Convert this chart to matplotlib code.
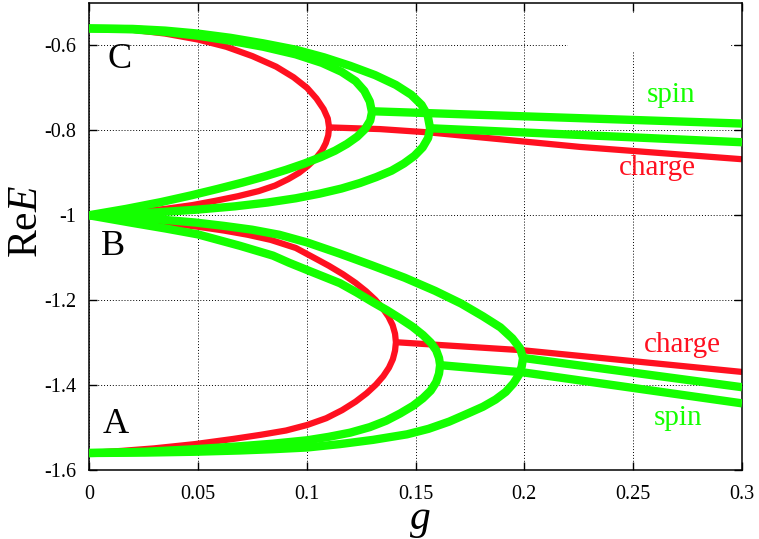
import matplotlib
matplotlib.use("Agg")
import matplotlib.pyplot as plt
from matplotlib.patches import Rectangle

plt.rcParams['font.family'] = ['Liberation Serif', 'DejaVu Serif']
plt.rcParams['mathtext.fontset'] = 'custom'
plt.rcParams['mathtext.rm'] = 'Liberation Serif'
plt.rcParams['mathtext.it'] = 'Liberation Serif:italic'

RED = '#ff1020'
GREEN = '#14ff00'

# --- upper pair of levels (C <-> B) ---
red_cb_g = [0, 0.02, 0.035, 0.05, 0.063, 0.075, 0.086, 0.094, 0.1002, 0.1045, 0.1078, 0.1097, 0.1103,
            0.1099, 0.1088, 0.107, 0.1042, 0.1005, 0.0965, 0.0915, 0.0855, 0.078, 0.0685, 0.058,
            0.0475, 0.035, 0.02, 0]
red_cb_e = [-0.560, -0.563, -0.572, -0.586, -0.603, -0.625, -0.650, -0.675, -0.700, -0.725, -0.750, -0.772, -0.793,
            -0.812, -0.830, -0.848, -0.866, -0.884, -0.900, -0.915, -0.930, -0.943, -0.955, -0.966,
            -0.976, -0.985, -0.993, -1.000]

spin1_cb_g = [0, 0.02, 0.035, 0.05, 0.065, 0.08, 0.095, 0.107, 0.116, 0.1225, 0.1265, 0.129, 0.130,
              0.1292, 0.1268, 0.1232, 0.1185, 0.113, 0.1065, 0.099, 0.0905, 0.081, 0.0705, 0.059,
              0.047, 0.033, 0.017, 0]
spin1_cb_e = [-0.560, -0.562, -0.568, -0.577, -0.589, -0.603, -0.621, -0.641, -0.662, -0.684, -0.707, -0.732, -0.757,
              -0.777, -0.797, -0.815, -0.832, -0.848, -0.863, -0.878, -0.893, -0.908, -0.923, -0.938,
              -0.953, -0.969, -0.985, -1.000]

spin2_cb_g = [0, 0.02, 0.035, 0.05, 0.065, 0.08, 0.095, 0.108, 0.12, 0.1315, 0.141, 0.148, 0.1528, 0.1556, 0.1567,
              0.1558, 0.1533, 0.1495, 0.1447, 0.139, 0.132, 0.1245, 0.116, 0.106, 0.095, 0.082, 0.067,
              0.049, 0.028, 0]
spin2_cb_e = [-0.560, -0.561, -0.565, -0.572, -0.582, -0.595, -0.610, -0.628, -0.648, -0.670, -0.693, -0.716, -0.740,
              -0.765, -0.795,
              -0.818, -0.840, -0.860, -0.878, -0.895, -0.910, -0.924, -0.937, -0.949, -0.960, -0.970, -0.979,
              -0.987, -0.994, -1.000]

# --- lower pair of levels (B <-> A) ---
red_ba_g = [0, 0.02, 0.035, 0.05, 0.062, 0.073, 0.0835, 0.095, 0.103, 0.1102, 0.1167, 0.1224, 0.1273, 0.1315,
            0.1349, 0.1376, 0.1395, 0.1406, 0.141,
            0.1406, 0.1396, 0.1378, 0.1352, 0.1318, 0.1276, 0.1225, 0.1163, 0.109, 0.1002, 0.0905, 0.079,
            0.066, 0.0487, 0.03, 0.015, 0]
red_ba_e = [-1.000, -1.010, -1.018, -1.027, -1.036, -1.046, -1.058, -1.077, -1.099, -1.119, -1.139, -1.159, -1.179,
            -1.199, -1.219, -1.239, -1.259, -1.279, -1.299,
            -1.319, -1.339, -1.359, -1.379, -1.399, -1.419, -1.439, -1.459, -1.478, -1.494, -1.507, -1.517,
            -1.527, -1.539, -1.549, -1.555, -1.560]

spin1_ba_g = [0, 0.02, 0.035, 0.05, 0.0694, 0.0845, 0.092, 0.1002, 0.1153, 0.123, 0.1305, 0.137, 0.1429, 0.1485,
              0.1534, 0.157, 0.1595, 0.1608, 0.1613,
              0.1608, 0.1595, 0.157, 0.1534, 0.1488, 0.1429, 0.1365, 0.129, 0.12, 0.11, 0.1002, 0.0845,
              0.0694, 0.0487, 0.0257, 0]
spin1_ba_e = [-1.000, -1.018, -1.031, -1.045, -1.072, -1.095, -1.112, -1.129, -1.160, -1.182, -1.205, -1.224,
              -1.243, -1.262, -1.282, -1.300, -1.318, -1.336, -1.353,
              -1.373, -1.393, -1.413, -1.431, -1.449, -1.467, -1.484, -1.499, -1.512, -1.522, -1.530, -1.538,
              -1.544, -1.551, -1.557, -1.560]

spin2_ba_g = [0, 0.02, 0.035, 0.0487, 0.062, 0.075, 0.0875, 0.1002, 0.115, 0.13, 0.145, 0.159, 0.171, 0.181,
              0.189, 0.1945, 0.198, 0.1994,
              0.1988, 0.1975, 0.195, 0.1915, 0.1868, 0.181, 0.174, 0.1655, 0.156, 0.1461, 0.1305, 0.1153,
              0.1002, 0.0845, 0.0694, 0.0487, 0.0257, 0]
spin2_ba_e = [-1.000, -1.006, -1.011, -1.017, -1.025, -1.034, -1.046, -1.064, -1.090, -1.118, -1.147, -1.178,
              -1.208, -1.238, -1.264, -1.290, -1.313, -1.336,
              -1.356, -1.376, -1.396, -1.416, -1.434, -1.451, -1.467, -1.486, -1.503, -1.516, -1.529, -1.539,
              -1.547, -1.551, -1.554, -1.557, -1.559, -1.560]

# --- branches after the exceptional points ---
red_tail_up_g = [0.1103, 0.1337, 0.1567, 0.2256, 0.3]
red_tail_up_e = [-0.793, -0.797, -0.805, -0.839, -0.868]
spin1_tail_up_g = [0.1300, 0.3]
spin1_tail_up_e = [-0.755, -0.784]
spin2_tail_up_g = [0.1567, 0.3]
spin2_tail_up_e = [-0.795, -0.828]

red_tail_lo_g = [0.1410, 0.1994, 0.3]
red_tail_lo_e = [-1.299, -1.318, -1.369]
spin1_tail_lo_g = [0.1613, 0.1994, 0.3]
spin1_tail_lo_e = [-1.353, -1.370, -1.443]
spin2_tail_lo_g = [0.1994, 0.3]
spin2_tail_lo_e = [-1.336, -1.405]

x_ticks = [0, 0.05, 0.1, 0.15, 0.2, 0.25, 0.3]
x_tick_labels = ['0', '0.05', '0.1', '0.15', '0.2', '0.25', '0.3']
y_ticks = [-1.6, -1.4, -1.2, -1.0, -0.8, -0.6]
y_tick_labels = ['-1.6', '-1.4', '-1.2', '-1', '-0.8', '-0.6']

fig = plt.figure(figsize=(7.59, 5.39), dpi=100)
ax = fig.add_axes([89 / 759, 1 - 470 / 539, 653 / 759, 467 / 539])

# red first, green over it
for g, e in [(red_cb_g, red_cb_e), (red_ba_g, red_ba_e),
             (red_tail_up_g, red_tail_up_e), (red_tail_lo_g, red_tail_lo_e)]:
    ax.plot(g, e, color=RED, lw=4.5, solid_joinstyle='round', solid_capstyle='butt', zorder=2)

for g, e in [(spin1_cb_g, spin1_cb_e), (spin2_cb_g, spin2_cb_e),
             (spin1_ba_g, spin1_ba_e), (spin2_ba_g, spin2_ba_e),
             (spin1_tail_up_g, spin1_tail_up_e), (spin2_tail_up_g, spin2_tail_up_e),
             (spin1_tail_lo_g, spin1_tail_lo_e), (spin2_tail_lo_g, spin2_tail_lo_e)]:
    ax.plot(g, e, color=GREEN, lw=6, solid_joinstyle='round', solid_capstyle='butt', zorder=3)

ax.set_xlim(0, 0.3)
ax.set_ylim(-1.6, -0.5)
ax.set_xticks(x_ticks)
ax.set_xticklabels(x_tick_labels)
ax.set_yticks(y_ticks)
ax.set_yticklabels(y_tick_labels)
ax.tick_params(direction='in', top=True, right=True, length=6, width=1, labelsize=14.5)
ax.tick_params(axis='x', pad=11)
ax.tick_params(axis='y', pad=9)
for s in ax.spines.values():
    s.set_linewidth(1.1)

ax.set_axisbelow(True)
ax.grid(True, color='black', linestyle=(0, (1, 2)), linewidth=0.7)
# empty key box of the original plot hides part of the grid
ax.add_patch(Rectangle((0.22, -0.612), 0.075, 0.088, facecolor='white',
                       edgecolor='none', zorder=1))

# level labels
ax.text(0.0142, -0.634, 'C', fontsize=26, ha='center', va='center')
ax.text(0.0108, -1.074, 'B', fontsize=26, ha='center', va='center')
ax.text(0.0122, -1.494, 'A', fontsize=26, ha='center', va='center')

ax.text(0.2674, -0.733, 'spin', color=GREEN, fontsize=21, ha='center', va='baseline')
ax.text(0.2610, -0.906, 'charge', color=RED, fontsize=21, ha='center', va='baseline')
ax.text(0.2724, -1.3216, 'charge', color=RED, fontsize=21, ha='center', va='baseline')
ax.text(0.2706, -1.494, 'spin', color=GREEN, fontsize=21, ha='center', va='baseline')

fig.text(27 / 759, 1 - 222 / 539, r'Re$E$', fontsize=30, rotation=90, ha='center', va='center')
fig.text(420 / 759, 1 - 521 / 539, r'$g$', fontsize=30, ha='center', va='center')

fig.savefig('out.png', dpi=100)
